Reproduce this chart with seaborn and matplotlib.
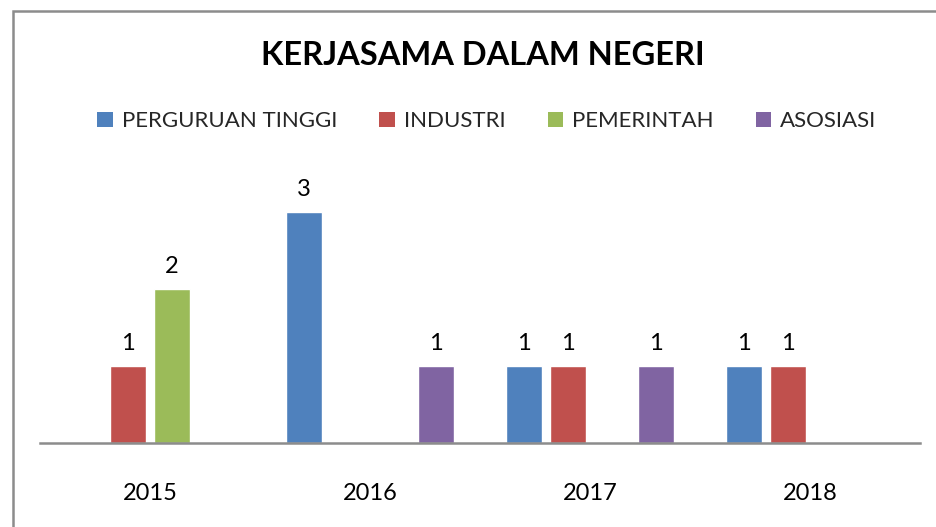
import matplotlib
matplotlib.use("Agg")
import matplotlib.pyplot as plt
import seaborn as sns
import pandas as pd
from matplotlib.patches import Patch, Rectangle

years = ["2015", "2016", "2017", "2018"]
categories = ["PERGURUAN TINGGI", "INDUSTRI", "PEMERINTAH", "ASOSIASI"]
perguruan_tinggi = [0, 3, 1, 1]
industri = [1, 0, 1, 1]
pemerintah = [2, 0, 0, 0]
asosiasi = [0, 1, 1, 0]
colors = ["#4F81BD", "#C0504D", "#9BBB59", "#8064A2"]
title = "KERJASAMA DALAM NEGERI"

series = [perguruan_tinggi, industri, pemerintah, asosiasi]
rows = []
for cat, vals in zip(categories, series):
    for y, v in zip(years, vals):
        rows.append({"year": y, "category": cat, "value": v})
df = pd.DataFrame(rows)

sns.set_theme(style="white")
plt.rcParams["font.family"] = ["Lato", "DejaVu Sans"]

W, H = 937, 527
fig = plt.figure(figsize=(W / 100, H / 100), dpi=100)
ax = fig.add_axes([40 / W, 84 / H, 880 / W, 277 / H])

sns.barplot(data=df, x="year", y="value", hue="category", order=years,
            hue_order=categories, palette=colors, width=0.8, gap=0.18,
            saturation=1, ax=ax, legend=False, errorbar=None)

for cont in ax.containers:
    labels = [f"{int(b.get_height())}" if b.get_height() > 0 else "" for b in cont]
    ax.bar_label(cont, labels=labels, padding=9, fontsize=17, color="#000000")

ax.set_xlim(-0.5, 3.5)
ax.set_ylim(0, 3.6)
ax.set_yticks([])
ax.set_xlabel("")
ax.set_ylabel("")
for s in ["top", "left", "right"]:
    ax.spines[s].set_visible(False)
ax.spines["bottom"].set_color("#8c8c8c")
ax.spines["bottom"].set_linewidth(1.8)
ax.tick_params(axis="x", length=0, pad=29, labelsize=17, colors="#000000")

fig.text(483 / W, 1 - 56 / H, title, ha="center", va="center",
         fontsize=23.5, fontweight="bold", color="#000000")

handles = [Patch(facecolor=c, edgecolor="none") for c in colors]
fig.legend(handles, categories, loc="center", ncol=4,
           bbox_to_anchor=(487 / W, 1 - 121 / H), frameon=False,
           fontsize=16, handlelength=0.68, handleheight=0.68,
           handletextpad=0.42, columnspacing=1.9)

fig.patches.append(Rectangle((12.5 / W, -0.1), 1.2, 1.1 - 10.5 / H,
                             transform=fig.transFigure, fill=False,
                             edgecolor="#8c8c8c", linewidth=1.8))

fig.savefig("out.png", dpi=100, facecolor="white")
